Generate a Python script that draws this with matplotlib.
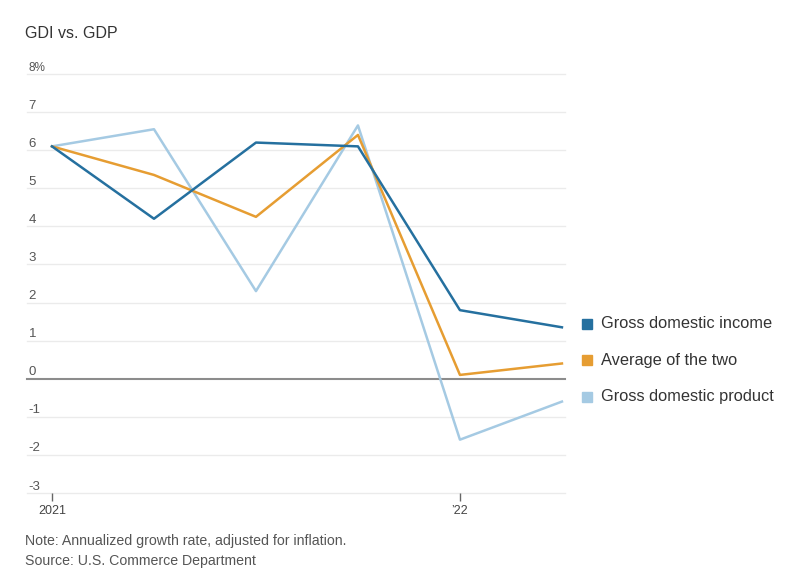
import matplotlib
matplotlib.use("Agg")
import matplotlib.pyplot as plt
from matplotlib.patches import Rectangle
from matplotlib.transforms import blended_transform_factory

quarters = ["2021Q1", "2021Q2", "2021Q3", "2021Q4", "2022Q1", "2022Q2"]
gdi = [6.1, 4.2, 6.2, 6.1, 1.8, 1.35]
average = [6.1, 5.35, 4.25, 6.4, 0.1, 0.4]
gdp = [6.1, 6.55, 2.3, 6.65, -1.6, -0.6]
y_ticks = [-3, -2, -1, 0, 1, 2, 3, 4, 5, 6, 7, 8]
y_labels = ["-3", "-2", "-1", "0", "1", "2", "3", "4", "5", "6", "7", "8%"]
x_tick_pos = [0, 4]
x_tick_labels = ["2021", "\u201922"]
series_names = ["Gross domestic income", "Average of the two", "Gross domestic product"]

plt.rcParams['font.family'] = ['Liberation Sans', 'DejaVu Sans']

c_gdi = '#25709f'
c_avg = '#e69d32'
c_gdp = '#a5cae3'

fig = plt.figure(figsize=(8.1, 5.84), dpi=100)
ax = fig.add_axes([27/810, (584-493)/584, (565-27)/810, (493-74)/584])
x = list(range(len(quarters)))

for t in y_ticks:
    if t == 0:
        ax.axhline(t, color='#8c8c8c', lw=1.5, zorder=3, clip_on=False)
    else:
        ax.axhline(t, color='#ebebeb', lw=1.0, zorder=1, clip_on=False)

ax.plot(x, gdp, color=c_gdp, lw=1.8, zorder=4)
ax.plot(x, average, color=c_avg, lw=1.8, zorder=5)
ax.plot(x, gdi, color=c_gdi, lw=1.8, zorder=6)

ax.set_xlim(-0.245, 5.03)
ax.set_ylim(-3, 8)
for s in ax.spines.values():
    s.set_visible(False)
ax.set_yticks([])
ax.set_xticks(x_tick_pos)
ax.set_xticklabels(x_tick_labels, fontsize=9, color='#444444')
ax.tick_params(axis='x', length=6, width=1, color='#666666', pad=3)

trans = blended_transform_factory(ax.transAxes, ax.transData)
for t, lab in zip(y_ticks, y_labels):
    ax.text(0.003, t + 0.17, lab, transform=trans,
            fontsize=8.5 if lab.endswith('%') else 9.5, color='#555555',
            ha='left', va='center')

fig.text(25/810, 1 - 33/584, "GDI vs. GDP", fontsize=11.5, color='#333333',
         ha='left', va='center')
fig.text(25/810, 1 - 541/584, "Note: Annualized growth rate, adjusted for inflation.",
         fontsize=10.2, color='#555555', ha='left', va='center')
fig.text(25/810, 1 - 561/584, "Source: U.S. Commerce Department",
         fontsize=10.2, color='#555555', ha='left', va='center')

leg_y = [324, 360, 397]
for name, col, yy in zip(series_names, [c_gdi, c_avg, c_gdp], leg_y):
    fig.patches.append(Rectangle((582/810, 1 - (yy + 5)/584), 10/810, 10/584,
                                 transform=fig.transFigure, color=col))
    fig.text(601/810, 1 - yy/584, name, fontsize=11.8, color='#333333',
             ha='left', va='center')

fig.savefig("out.png", dpi=100, facecolor='white')
